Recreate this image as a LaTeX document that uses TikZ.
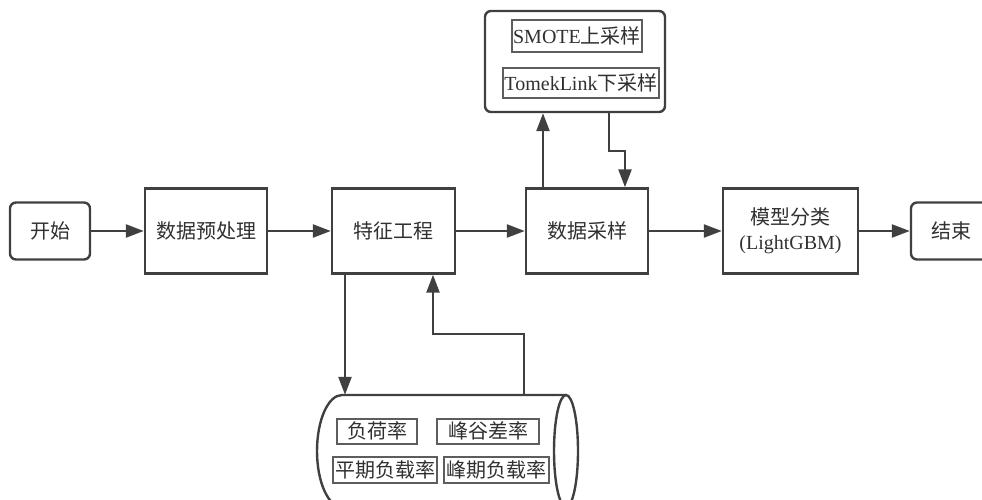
\documentclass[tikz,border=0pt]{standalone}
\usepackage{fontspec}
\setmainfont{Liberation Serif}
\newfontfamily\cjk{Noto Sans CJK SC}
\usetikzlibrary{arrows.meta}
\definecolor{ln}{HTML}{404040}
\definecolor{tx}{HTML}{303030}
\begin{document}
\begin{tikzpicture}[x=1pt,y=-1pt,
  line/.style={draw=ln,line width=2.4pt},
  arr/.style={draw=ln,line width=2.4pt,-{Triangle[length=18pt,width=13pt]}},
  proc/.style={line,rectangle,minimum height=85pt,inner sep=0pt,align=center,text=tx,font=\fontsize{20}{25}\selectfont},
  term/.style={line,rectangle,rounded corners=6pt,minimum width=80pt,minimum height=57pt,inner sep=0pt,text=tx,font=\fontsize{20}{25}\selectfont},
  tag/.style={draw=ln!85,line width=2pt,rectangle,inner sep=0pt,text=tx,font=\fontsize{20}{25}\selectfont}]
\useasboundingbox (0,0) rectangle (982,499);
% main row
\node[term] (start) at (50,231) {\cjk 开始};
\node[proc,minimum width=122pt] (pre) at (206,231) {\cjk 数据预处理};
\node[proc,minimum width=123pt] (fe) at (393.5,231) {\cjk 特征工程};
\node[proc,minimum width=122pt] (samp) at (587,231) {\cjk 数据采样};
\node[proc,minimum width=135pt] (model) at (790.5,231) {{\cjk 模型分类}\\(LightGBM)};
\node[term] (end) at (951,231) {\cjk 结束};
% sampling methods box
\node[line,rectangle,rounded corners=6pt,minimum width=180pt,minimum height=101pt] (top) at (575,61.5) {};
\node[tag,minimum width=130pt,minimum height=32pt] (smote) at (577,36) {SMOTE{\cjk 上采样}};
\node[tag,minimum width=156pt,minimum height=30pt] (tomek) at (581,83) {TomekLink{\cjk 下采样}};
% feature store cylinder
\node[minimum width=262pt,minimum height=112pt,inner sep=0pt] (db) at (447,451) {};
\draw[line] (566,395) -- (342,395) arc[start angle=90,end angle=270,x radius=25pt,y radius=56pt] -- (566,507);
\draw[line] (566,451) ellipse [x radius=12pt,y radius=56pt];
\node[tag,minimum width=80pt,minimum height=25pt] (f1) at (377,431) {\cjk 负荷率};
\node[tag,minimum width=102pt,minimum height=25pt] (f2) at (488,431) {\cjk 峰谷差率};
\node[tag,minimum width=104pt,minimum height=26pt] (f3) at (385,470) {\cjk 平期负载率};
\node[tag,minimum width=105pt,minimum height=26pt] (f4) at (496.5,470) {\cjk 峰期负载率};
% connectors
\draw[arr] (start.east) -- (pre.west);
\draw[arr] (pre.east) -- (fe.west);
\draw[arr] (fe.east) -- (samp.west);
\draw[arr] (samp.east) -- (model.west);
\draw[arr] (model.east) -- (end.west);
\draw[arr] ([xshift=-44pt]samp.north) -- ([xshift=-44pt]samp.north |- top.south);
\draw[arr] ([xshift=34pt]top.south) -- ++(0,38) -| ([xshift=38pt]samp.north);
\draw[arr] ([xshift=-48.5pt]fe.south) -- ([xshift=-48.5pt]fe.south |- db.north);
\draw[arr] ([xshift=77pt]db.north) -- ++(0,-61) -| ([xshift=39.5pt]fe.south);
\end{tikzpicture}
\end{document}
